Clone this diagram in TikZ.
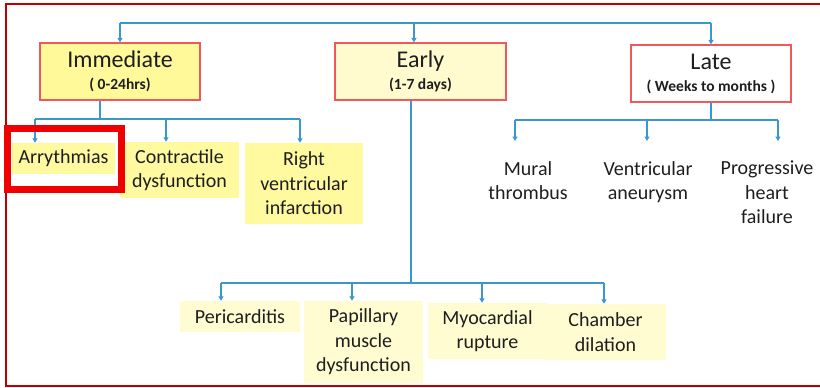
\documentclass[tikz,border=0pt]{standalone}
\usepackage{fontspec}
\setmainfont{Carlito}
\usetikzlibrary{arrows.meta}
\definecolor{framered}{HTML}{C00000}
\definecolor{hdrred}{HTML}{F2585A}
\definecolor{hlred}{HTML}{F00000}
\definecolor{immfill}{HTML}{FFF99A}
\definecolor{earlyfill}{HTML}{FFFBCF}
\definecolor{kidfill}{HTML}{FFF9A0}
\definecolor{lowfill}{HTML}{FFFCD2}
\definecolor{conn}{HTML}{3A98CC}
\definecolor{txt}{HTML}{1E1E1E}
\newcommand{\hdrtxt}[1]{{\fontsize{24}{24}\selectfont #1}}
\begin{document}
\begin{tikzpicture}[x=1pt,y=-1pt,
  hdrbox/.style={draw=hdrred, line width=1.3pt, inner sep=0pt, minimum height=57pt,
    align=center, text=txt, font=\fontsize{15.5}{22}\selectfont},
  kidbox/.style={fill=kidfill, inner sep=0pt, align=center, text=txt,
    font=\fontsize{20}{24.5}\selectfont},
  lowbox/.style={fill=lowfill, inner sep=0pt, align=center, text=txt,
    font=\fontsize{20}{24.5}\selectfont},
  plain/.style={anchor=north, inner xsep=0pt, inner ysep=20pt, align=center, text=txt,
    font=\fontsize{20}{24.5}\selectfont},
  line/.style={draw=conn, line width=1.1pt},
  arr/.style={line, -{Triangle[length=4.5pt,width=5pt]}}]
\useasboundingbox (0,0) rectangle (820,388);
% outer frame
\draw[framered, line width=2pt] (820,4) -- (6,4) -- (6,386) -- (820,386);

% headers
\node[hdrbox, fill=immfill, minimum width=160pt] (imm) at (120,71.5)
  {\hdrtxt{Immediate}\\ \textbf{( 0-24hrs)}};
\node[hdrbox, fill=earlyfill, minimum width=171pt] (early) at (420.5,71.5)
  {\hdrtxt{Early}\\ \textbf{(1-7 days)}};
\node[hdrbox, fill=white, minimum width=160pt] (late) at (711,73.5)
  {\hdrtxt{Late}\\ \textbf{( Weeks to months )}};

% top bus
\coordinate (bI) at (120,23);
\coordinate (bE) at (414,23);
\coordinate (bL) at (711,23);
\draw[line] (bI) -- (bL);
\draw[arr] (bI) -- (imm.north);
\draw[arr] (bE) -- (bE |- early.north);
\draw[arr] (bL) -- (late.north);

% immediate children
\node[kidbox, minimum width=103pt, minimum height=31pt] (arr) at (63.5,158.5) {Arrythmias};
\node[kidbox, minimum width=119pt, minimum height=56pt] (con) at (179.5,170) {Contractile\\dysfunction};
\node[kidbox, minimum width=118pt, minimum height=81pt] (rvi) at (304,183.5) {Right\\ventricular\\infarction};
\coordinate (iS) at (100,119);
\coordinate (i1) at (35,119);
\coordinate (i2) at (166,119);
\coordinate (i3) at (300,119);
\draw[line] (iS |- imm.south) -- (iS);
\draw[line] (i1) -- (i3);
\draw[arr] (i1) -- (i1 |- arr.north);
\draw[arr] (i2) -- (i2 |- con.north);
\draw[arr] (i3) -- (i3 |- rvi.north);
\node[draw=hlred, line width=6.5pt, minimum width=114pt, minimum height=61pt, inner sep=0pt] (hl) at (64.5,159) {};

% late children
\node[plain] (mur) at (528,141) {Mural\\thrombus};
\node[plain] (ane) at (648,141) {Ventricular\\aneurysm};
\node[plain] (phf) at (767,141) {Progressive\\heart\\failure};
\coordinate (lS) at (711,120);
\coordinate (l1) at (515,120);
\coordinate (l2) at (647,120);
\coordinate (l3) at (778,120);
\draw[line] (late.south) -- (lS);
\draw[line] (l1) -- (l3);
\draw[arr] (l1) -- (l1 |- mur.north);
\draw[arr] (l2) -- (l2 |- ane.north);
\draw[arr] (l3) -- (l3 |- phf.north);

% early children
\node[lowbox, minimum width=120pt, minimum height=31pt] (per) at (240,316.5) {Pericarditis};
\node[lowbox, minimum width=119pt, minimum height=82pt] (pap) at (363.5,342) {Papillary\\muscle\\dysfunction};
\node[lowbox, minimum width=119pt, minimum height=56pt] (myo) at (487.5,331) {Myocardial\\rupture};
\node[lowbox, minimum width=121pt, minimum height=56pt] (cha) at (605.5,332) {Chamber\\dilation};
\coordinate (eS) at (411,283);
\coordinate (e1) at (221,283);
\coordinate (e2) at (352,283);
\coordinate (e3) at (482,283);
\coordinate (e4) at (604,283);
\draw[line] (eS |- early.south) -- (eS);
\draw[line] (e1) -- (e4);
\draw[arr] (e1) -- (e1 |- per.north);
\draw[arr] (e2) -- (e2 |- pap.north);
\draw[arr] (e3) -- (e3 |- myo.north);
\draw[arr] (e4) -- (e4 |- cha.north);
\end{tikzpicture}
\end{document}
